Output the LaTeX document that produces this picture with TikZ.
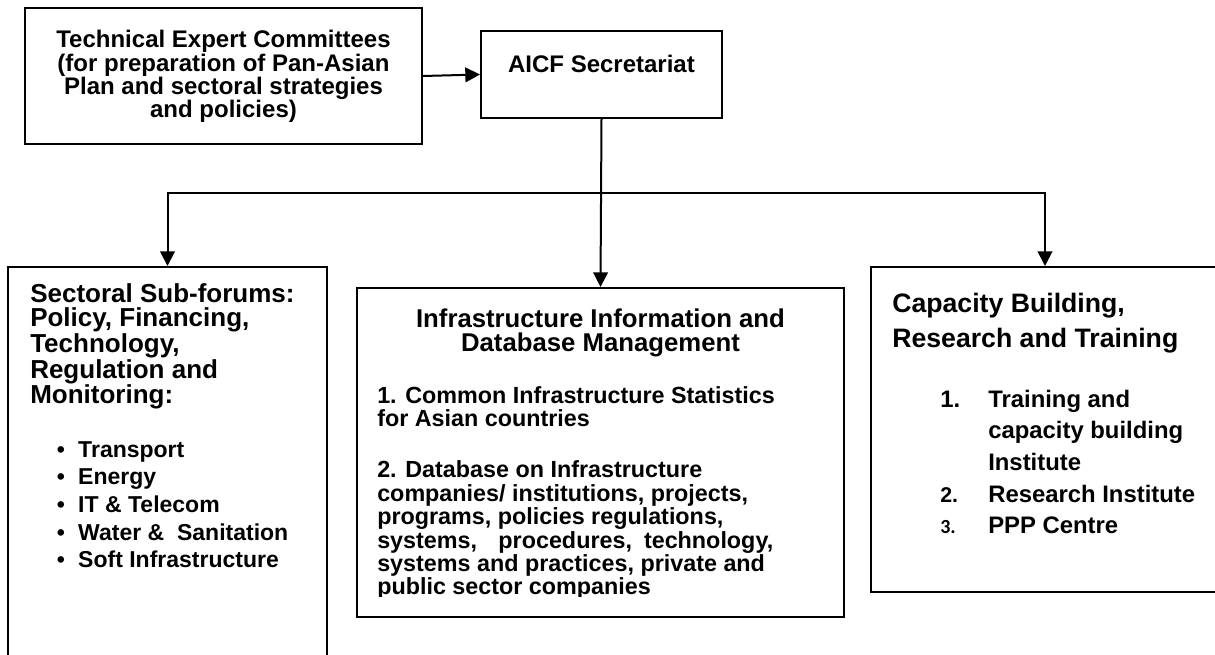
\documentclass[tikz,border=0pt]{standalone}
\usepackage{fontspec}
\setmainfont{Liberation Sans}
\newfontfamily\carlitofont{Carlito}
\usetikzlibrary{arrows.meta,fit,calc}
\begin{document}
\begin{tikzpicture}[x=0.75pt,y=-0.75pt,
  box/.style={draw,line width=1.5pt,inner sep=0pt},
  conn/.style={line width=1.5pt,-{Triangle[length=11pt,width=11pt]}},
  txt/.style={inner sep=0pt,anchor=base west,align=left},
  ctxt/.style={inner sep=0pt,anchor=base,align=center}]
\useasboundingbox (0,0) rectangle (1215,655);
\fill[white] (0,0) rectangle (1215,655);
\clip (0,0) rectangle (1215,655);

% boxes
\node[box,fit={(25,8) (422,144)}] (tec) {};
\node[box,fit={(481,31) (722,118)}] (aicf) {};
\node[box,fit={(8,267) (327,690)}] (left) {};
\node[box,fit={(357,288) (844,617)}] (mid) {};
\node[box,fit={(871,267) (1219,592)}] (right) {};

% texts (base anchor = baseline of the last line)
\node[ctxt,font=\bfseries\fontsize{18}{17.5}\selectfont] (tecT) at (223.5,118)
  {Technical Expert Committees\\(for preparation of Pan-Asian\\Plan and sectoral strategies\\and policies)};
\node[ctxt,font=\bfseries\fontsize{18}{17.5}\selectfont] (aicfT) at (601.5,73) {AICF Secretariat};

\node[txt,font=\bfseries\fontsize{19.5}{18}\selectfont] (leftH) at (30,404)
  {Sectoral Sub-forums:\\Policy, Financing,\\Technology,\\Regulation and\\Monitoring:};
\node[txt,font=\bfseries\fontsize{17.25}{20.8}\selectfont] (leftL) at (78,568)
  {\llap{•\hspace{10pt}}Transport\\
   \llap{•\hspace{10pt}}Energy\\
   \llap{•\hspace{10pt}}IT \& Telecom\\
   \llap{•\hspace{10pt}}Water \&\ \ Sanitation\\
   \llap{•\hspace{10pt}}Soft Infrastructure};

\node[ctxt,font=\bfseries\fontsize{19.3}{18}\selectfont] (midH) at (600.5,352)
  {Infrastructure Information and\\Database Management};
\node[txt,font=\bfseries\fontsize{17.5}{17.6}\selectfont] (mid1) at (377,427)
  {1. Common Infrastructure Statistics\\for Asian countries};
\begin{scope}
\clip (357,288) rectangle (844,597);
\node[txt,font=\bfseries\fontsize{17.5}{17.6}\selectfont] (mid2) at (377,595)
  {2. Database on Infrastructure\\companies/ institutions, projects,\\programs, policies regulations,\\systems,\hspace{16pt}procedures,\hspace{9pt}technology,\\systems and practices, private and\\public sector companies};
\end{scope}

\node[txt,font=\bfseries\fontsize{20}{26.25}\selectfont] (rightH) at (892,348)
  {Capacity Building,\\Research and Training};
\node[txt,font=\bfseries\fontsize{17.9}{23.8}\selectfont] (rightL) at (940,534)
  {\makebox[36pt][l]{1.}Training and\\
   \hspace*{36pt}capacity building\\
   \hspace*{36pt}Institute\\
   \makebox[36pt][l]{\fontsize{16}{16}\selectfont 2.}Research Institute\\
   \makebox[36pt][l]{\carlitofont\fontsize{15}{15}\selectfont 3.}PPP Centre};

% connectors
\coordinate (j) at (aicf.south |- 0,193);
\draw[conn] (tec.east) -- (aicf.west);
\draw[conn] (aicf.south) -- (mid.north);
\draw[conn] (j) -| (left.north);
\draw[conn] (j) -| (right.north);
\end{tikzpicture}
\end{document}
